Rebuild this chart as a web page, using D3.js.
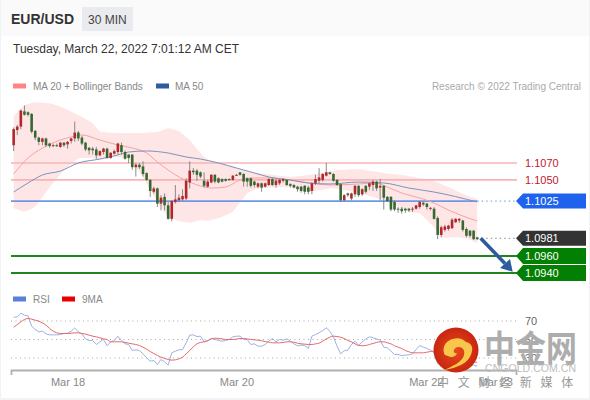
<!DOCTYPE html>
<html><head><meta charset="utf-8">
<script src="https://cdnjs.cloudflare.com/ajax/libs/d3/7.8.5/d3.min.js"></script>
<style>html,body{margin:0;padding:0;background:#fff}svg{display:block}text{font-family:"Liberation Sans",Arial,sans-serif}</style>
</head><body><svg id="c" width="590" height="400"></svg>
<script>
const opens=[1.1091,1.1109,1.1113,1.1131,1.1130,1.1128,1.1108,1.1100,1.1095,1.1099,1.1093,1.1090,1.1091,1.1089,1.1094,1.1092,1.1096,1.1099,1.1106,1.1100,
1.1094,1.1088,1.1087,1.1086,1.1079,1.1083,1.1087,1.1076,1.1081,1.1083,1.1091,1.1083,1.1080,1.1080,1.1065,1.1068,1.1066,1.1058,1.1050,1.1036,
1.1040,1.1022,1.1030,1.1020,1.1004,1.1024,1.1026,1.1027,1.1028,1.1047,1.1061,1.1061,1.1059,1.1049,1.1042,1.1047,1.1056,1.1052,1.1051,1.1051,
1.1051,1.1050,1.1055,1.1059,1.1057,1.1052,1.1052,1.1048,1.1042,1.1046,1.1042,1.1044,1.1051,1.1044,1.1046,1.1049,1.1050,1.1045,1.1044,1.1042,
1.1042,1.1043,1.1041,1.1037,1.1046,1.1049,1.1050,1.1055,1.1059,1.1057,1.1050,1.1045,1.1026,1.1034,1.1028,1.1033,1.1043,1.1033,1.1043,1.1042,
1.1044,1.1048,1.1041,1.1043,1.1030,1.1030,1.1024,1.1016,1.1016,1.1016,1.1016,1.1015,1.1016,1.1018,1.1023,1.1022,1.1016,1.1016,1.1005,1.0985,
1.0991,1.0992,1.0993,1.1000,1.1002,1.1002,1.0992,1.0990,1.0990,1.0982];
const closes=[1.1110,1.1113,1.1132,1.1127,1.1127,1.1107,1.1100,1.1095,1.1099,1.1091,1.1090,1.1091,1.1090,1.1094,1.1091,1.1095,1.1099,1.1106,1.1099,1.1093,
1.1086,1.1085,1.1085,1.1079,1.1084,1.1087,1.1076,1.1082,1.1084,1.1093,1.1083,1.1075,1.1076,1.1065,1.1068,1.1065,1.1057,1.1050,1.1037,1.1040,
1.1022,1.1029,1.1020,1.1004,1.1025,1.1027,1.1029,1.1031,1.1049,1.1061,1.1059,1.1056,1.1054,1.1043,1.1048,1.1056,1.1048,1.1047,1.1048,1.1049,
1.1050,1.1055,1.1056,1.1056,1.1048,1.1048,1.1043,1.1044,1.1046,1.1041,1.1046,1.1051,1.1044,1.1049,1.1050,1.1051,1.1044,1.1043,1.1041,1.1039,
1.1037,1.1036,1.1036,1.1046,1.1051,1.1053,1.1057,1.1059,1.1057,1.1049,1.1044,1.1026,1.1032,1.1032,1.1034,1.1043,1.1032,1.1039,1.1036,1.1046,
1.1048,1.1040,1.1043,1.1029,1.1025,1.1015,1.1015,1.1015,1.1013,1.1014,1.1014,1.1016,1.1020,1.1024,1.1021,1.1018,1.1017,1.1004,1.0985,1.0994,
1.0995,1.0996,1.1003,1.1004,1.1004,1.0991,1.0984,1.0984,1.0980,1.0980];
const highs=[1.1112,1.1115,1.1133,1.1138,1.1131,1.1129,1.1109,1.1101,1.1100,1.1100,1.1094,1.1093,1.1093,1.1095,1.1095,1.1096,1.1100,1.1119,1.1108,1.1102,
1.1095,1.1089,1.1089,1.1089,1.1085,1.1088,1.1088,1.1083,1.1086,1.1094,1.1094,1.1085,1.1080,1.1080,1.1070,1.1070,1.1072,1.1059,1.1051,1.1042,
1.1041,1.1032,1.1034,1.1024,1.1026,1.1044,1.1033,1.1039,1.1052,1.1072,1.1064,1.1063,1.1060,1.1059,1.1050,1.1057,1.1057,1.1053,1.1052,1.1052,
1.1052,1.1056,1.1057,1.1059,1.1058,1.1053,1.1053,1.1049,1.1047,1.1047,1.1047,1.1052,1.1052,1.1051,1.1051,1.1052,1.1051,1.1046,1.1045,1.1043,
1.1043,1.1044,1.1043,1.1047,1.1056,1.1064,1.1058,1.1070,1.1059,1.1058,1.1051,1.1046,1.1033,1.1035,1.1035,1.1044,1.1044,1.1040,1.1044,1.1047,
1.1050,1.1049,1.1051,1.1044,1.1031,1.1031,1.1026,1.1018,1.1018,1.1017,1.1017,1.1018,1.1020,1.1025,1.1024,1.1023,1.1018,1.1018,1.1007,1.0996,
1.0997,1.0997,1.1005,1.1005,1.1005,1.1003,1.0994,1.0991,1.0991,1.0983];
const lows=[1.1084,1.1103,1.1110,1.1126,1.1125,1.1105,1.1097,1.1091,1.1091,1.1089,1.1088,1.1089,1.1089,1.1088,1.1089,1.1087,1.1093,1.1095,1.1096,1.1091,
1.1084,1.1080,1.1080,1.1075,1.1078,1.1080,1.1075,1.1075,1.1080,1.1080,1.1080,1.1074,1.1070,1.1062,1.1054,1.1063,1.1054,1.1049,1.1030,1.1034,
1.1018,1.1014,1.1014,1.1003,1.1001,1.1022,1.1024,1.1025,1.1026,1.1040,1.1056,1.1049,1.1052,1.1041,1.1041,1.1046,1.1046,1.1046,1.1047,1.1048,
1.1049,1.1049,1.1055,1.1055,1.1042,1.1042,1.1041,1.1041,1.1040,1.1036,1.1041,1.1043,1.1043,1.1041,1.1044,1.1047,1.1043,1.1041,1.1040,1.1036,
1.1035,1.1033,1.1033,1.1033,1.1044,1.1046,1.1048,1.1054,1.1056,1.1048,1.1043,1.1024,1.1025,1.1030,1.1026,1.1030,1.1030,1.1031,1.1034,1.1038,
1.1037,1.1037,1.1026,1.1015,1.1024,1.1013,1.1013,1.1011,1.1010,1.1011,1.1012,1.1012,1.1015,1.1016,1.1019,1.1015,1.1014,1.1003,1.0980,1.0982,
1.0989,1.0990,1.0992,1.0999,1.0999,1.0989,1.0982,1.0982,1.0979,1.0979];

const upperIdx=[0,3,6,10,14,18,22,24,28,32,36,40,43,46,49,51,53,55,60,64,68,77,82,90,96,103,108,113,117,121,125,129];
const upperBand=[1.11256,1.11386,1.11421,1.11409,1.1135,1.11267,1.11173,1.11066,1.11055,1.11055,1.11055,1.11066,1.11114,1.11078,1.10972,1.10865,1.10771,1.10724,1.10676,1.10617,1.10582,1.10535,1.10558,1.10617,1.10629,1.10582,1.10558,1.10523,1.10487,1.10416,1.10334,1.10274];
const lowerIdx=[0,3,6,10,14,18,22,24,28,32,36,40,43,46,49,52,54,58,61,62,65,68,77,82,89,96,103,110,113,117,119,123,126,129];
const lowerBand=[1.10168,1.10121,1.1018,1.10416,1.10617,1.10759,1.10759,1.10735,1.10771,1.10759,1.10535,1.10239,1.10062,1.10014,1.09991,1.10026,1.10014,1.10062,1.10121,1.1018,1.10345,1.10404,1.10416,1.10357,1.10404,1.10345,1.10263,1.10121,1.10109,1.09944,1.09813,1.09825,1.09813,1.09754];
const ma20Idx=[0,4,8,13,16,19,24,29,33,37,40,43,46,49,52,55,59,63,67,71,77,82,89,96,101,104,108,111,117,121,125,129];
const ma20=[1.1057,1.10759,1.10877,1.10972,1.11007,1.11031,1.10972,1.10913,1.10877,1.10818,1.10712,1.10617,1.10535,1.10475,1.10428,1.10404,1.10416,1.10499,1.10523,1.10523,1.10499,1.10464,1.1044,1.10452,1.10464,1.10416,1.10345,1.1031,1.10227,1.10144,1.10074,1.10014];
const ma50Idx=[0,4,8,13,18,24,29,32,37,43,48,52,57,62,67,71,77,82,88,96,103,110,117,129];
const ma50=[1.10357,1.10464,1.10558,1.10605,1.107,1.10747,1.10795,1.1083,1.10842,1.10818,1.10771,1.10747,1.107,1.10641,1.10582,1.10535,1.10499,1.10464,1.10452,1.10475,1.10464,1.10404,1.10357,1.10239];

const rsi=[74.1,74.5,78.4,76.3,75.6,64.4,60.8,58.3,59,56.1,55,55,55,55.4,56.5,56.8,59,62.6,58.3,56.1,50.7,48.9,48.9,44.6,47.5,50,43.2,47.5,48.9,53.6,48.9,45.3,44.6,38.1,38.8,38.1,34.5,30.2,26.6,27.3,23,28.4,25.9,22.3,35.6,37.4,38.8,39.2,46.4,54.7,55,53.2,53.6,47.5,48.2,51.1,50,48.9,48.2,48.9,50,52.9,53.6,53.6,50,50,44.6,45.3,42.8,42.8,44.6,48.2,51.1,47.5,50,49.3,50.7,48.2,45.3,
43.2,43.9,43.5,40.3,53.6,55.4,57.2,59.7,62.6,59,52.5,42.8,34.5,37.8,38.5,44.6,48.2,43.5,47.5,50.7,52.9,51.8,50.7,49.3,41.7,41,37.4,33.8,33.8,32.7,33.1,33.4,34.5,39.2,43.5,41.7,40.3,38.5,35.6,23.7,23,24.8,25.9,28.4,29.5,29.5,25.9,23,23,22.3,21.2];
const rsiMa=[63.3,66.2,69.1,71.6,72.7,72,70.9,69.8,68,65.5,61.9,59,57.2,56.5,56.5,56.5,56.8,57.2,57.2,56.5,55.8,54.7,53.6,52.9,51.8,50.7,50,47.5,47.5,47.5,47.5,46.8,46,45.3,44.6,43.5,41.7,39.6,37,34.9,32.7,30.9,29.5,28.4,27.7,28,29.1,30.9,34.5,38.1,42.1,45.3,46.8,
47.5,48.9,50.7,51.4,51.1,50.7,50,50,50,50.4,51.1,51.1,50.7,50,49.6,49.3,48.6,47.8,47.1,46.4,46.4,46.4,46.8,47.5,47.5,47.1,
46,45.3,45,44.6,44.6,45.3,46,48.2,50.7,52.5,53.6,53.2,52.5,51.1,48.9,47.5,45.3,43.5,43.2,43.5,44.6,45.7,46.8,47.5,47.5,46.4,45.3,43.2,41.7,40.3,38.1,36.7,35.6,35.6,35.6,35.6,36.3,37,37.4,35.6,33.8,33.1,32.4,31.6,30.9,30.2,29.5,28,26.6,25.9,25.2];

const resistances=[1.1070,1.1050];
const pivot=1.1025, lastPrice=1.0981;
const supports=[1.0960,1.0940];
const rsiLevels=[70,50,30];
const tickIdx=[15,62,114.7,134];
const tickLabels=["Mar 18","Mar 20","Mar 22","Mar 23"];
const cnBrand="中金网", cnDomain="CNGOLD.COM.CN";
const cnSlogan=["中","文","财","经","新","媒","体"];

const svg=d3.select("#c");
const x=d3.scaleLinear().domain([-0.74,139.8]).range([11,516]);
const y=d3.scaleLinear().domain([1.0940,1.1070]).range([273,163]);
const yR=d3.scaleLinear().domain([30,70]).range([358,321]);
const lastI=opens.length-1;
const fmt=d3.format(".4f");

// page
svg.append("rect").attr("width",590).attr("height",400).attr("fill","#f1f3f7");
svg.append("rect").attr("x",1).attr("y",0).attr("width",588).attr("height",398).attr("fill","#fff");
svg.append("rect").attr("x",1).attr("y",0).attr("width",588).attr("height",36).attr("fill","#fafafa");
svg.append("rect").attr("x",82).attr("y",7).attr("width",51).attr("height",24).attr("fill","#e9ebef");
svg.append("text").attr("x",11).attr("y",24).attr("font-size",14).attr("font-weight","bold").attr("fill","#333").text("EUR/USD");
svg.append("text").attr("x",88).attr("y",24).attr("font-size",12).attr("fill","#444").text("30 MIN");
svg.append("text").attr("x",13).attr("y",53).attr("font-size",12).attr("fill","#333").text("Tuesday, March 22, 2022 7:01:12 AM CET");

function legend(px,py,color,label,tx){
  svg.append("rect").attr("x",px).attr("y",py-2.5).attr("width",13).attr("height",5).attr("fill",color);
  svg.append("text").attr("x",tx).attr("y",py+3.5).attr("font-size",10).attr("fill","#888").text(label);
}
legend(13,86,"#ff8585","MA 20 + Bollinger Bands",33);
legend(156,86,"#2f5b9f","MA 50",175);
legend(13,299,"#5b7fdb","RSI",33);
legend(62,299,"#e60000","9MA",82);
svg.append("text").attr("x",581).attr("y",90).attr("text-anchor","end").attr("font-size",10).attr("fill","#aaa").text("Research © 2022 Trading Central");

// bollinger band
const upAt=d3.scaleLinear(upperIdx,upperBand), loAt=d3.scaleLinear(lowerIdx,lowerBand);
svg.append("path").datum(d3.range(0,lastI+1))
 .attr("d",d3.area().x(i=>x(i)).y0(i=>y(loAt(i))).y1(i=>y(upAt(i))).curve(d3.curveBasis))
 .attr("fill","#fee6e6");

// levels
resistances.forEach(v=>{
  svg.append("line").attr("x1",x.range()[0]).attr("x2",517).attr("y1",y(v)).attr("y2",y(v)).attr("stroke","#f7b4b4").attr("stroke-width",1.6);
  svg.append("text").attr("x",525).attr("y",y(v)+4).attr("font-size",11).attr("fill","#c0202a").text(fmt(v));
});
svg.append("line").attr("x1",11).attr("x2",x(lastI)).attr("y1",y(pivot)).attr("y2",y(pivot)).attr("stroke","#6f97e8").attr("stroke-width",1.6);
svg.append("line").attr("x1",x(lastI)).attr("x2",517).attr("y1",y(pivot)).attr("y2",y(pivot)).attr("stroke","#8aa9e6").attr("stroke-width",1.2).attr("stroke-dasharray","1.5 3");
svg.append("line").attr("x1",x(lastI)).attr("x2",517).attr("y1",y(lastPrice)).attr("y2",y(lastPrice)).attr("stroke","#888").attr("stroke-width",1).attr("stroke-dasharray","1.5 3");
supports.forEach(v=>{
  svg.append("line").attr("x1",11).attr("x2",517).attr("y1",y(v)).attr("y2",y(v)).attr("stroke","#1f861f").attr("stroke-width",2);
});

// averages
const line=(idx,vals,color,w)=>svg.append("path").datum(idx.map((d,k)=>[d,vals[k]]))
 .attr("d",d3.line().x(d=>x(d[0])).y(d=>y(d[1])).curve(d3.curveMonotoneX))
 .attr("fill","none").attr("stroke",color).attr("stroke-width",w);
line(ma20Idx,ma20,"#f4a3a3",1);
line(ma50Idx,ma50,"#7d93bd",1);

// candles
const g=svg.append("g");
opens.forEach((o,i)=>{
  const c=closes[i], up=c>=o, top=y(Math.max(o,c)), bot=y(Math.min(o,c));
  g.append("line").attr("x1",x(i)).attr("x2",x(i)).attr("y1",y(highs[i])).attr("y2",y(lows[i])).attr("stroke","#7d7d7d").attr("stroke-width",0.9);
  g.append("rect").attr("x",x(i)-1.3).attr("width",2.6).attr("y",top).attr("height",Math.max(bot-top,1))
   .attr("fill",up?"#b3262b":"#35692f");
});

// tags
function tag(v,color,h){
  const m=y(v),l=516,r=586,n=7;
  svg.append("path").attr("d",`M${l},${m}L${l+n},${m-h/2}H${r}V${m+h/2}H${l+n}Z`).attr("fill",color);
  svg.append("text").attr("x",525).attr("y",m+4).attr("font-size",11).attr("fill","#fff").text(fmt(v));
}
tag(pivot,"#1e62ee",15);
tag(lastPrice,"#333333",15);
supports.forEach(v=>tag(v,"#038003",16));

// arrow
const ax0=x(lastI)+3.5, ay0=y(lastPrice), ax1=512.7, ay1=y(supports[1])-1.3;
svg.append("line").attr("x1",ax0).attr("y1",ay0).attr("x2",505).attr("y2",263.5).attr("stroke","#2d5c9e").attr("stroke-width",3.6);
svg.append("path").attr("d",`M${ax1},${ay1}L500,268L510,259Z`).attr("fill","#2d5c9e");

// rsi panel
rsiLevels.forEach(v=>{
  svg.append("line").attr("x1",11).attr("x2",517).attr("y1",yR(v)).attr("y2",yR(v)).attr("stroke","#aaa").attr("stroke-width",1).attr("stroke-dasharray","1 3.5");
  svg.append("text").attr("x",525).attr("y",yR(v)+4).attr("font-size",11).attr("fill","#666").text(v);
});
svg.append("path").datum(rsi).attr("d",d3.line().x((d,i)=>x(i)).y(d=>yR(d))).attr("fill","none").attr("stroke","#9db1e6").attr("stroke-width",1);
svg.append("path").datum(rsiMa).attr("d",d3.line().x((d,i)=>x(i)).y(d=>yR(d)).curve(d3.curveMonotoneX)).attr("fill","none").attr("stroke","#e46a6a").attr("stroke-width",1);

// axis
const axis=d3.axisBottom(x).tickValues(tickIdx).tickFormat((d,i)=>tickLabels[i]).tickSizeInner(0).tickSizeOuter(5).tickPadding(8);
const ag=svg.append("g").attr("transform","translate(0,370)").call(axis);
ag.select(".domain").attr("stroke","#b0b0b0").attr("stroke-width",1.8);
ag.selectAll("text").attr("font-size",11).attr("fill","#888").attr("font-family","'Liberation Sans',Arial,sans-serif");

// watermark
const defs=svg.append("defs");
const gr=defs.append("radialGradient").attr("id","lg");
gr.append("stop").attr("offset","0%").attr("stop-color","#e8491d");
gr.append("stop").attr("offset","100%").attr("stop-color","#c8260f");
svg.append("circle").attr("cx",456).attr("cy",350).attr("r",22.5).attr("fill","url(#lg)");
svg.append("path").attr("d","M444,353c-2,-7 3,-13 9,-14c5,-2 10,0 13,3c5,1 7,5 6,9c-1,6 -5,11 -11,14c-5,2 -10,4 -16,5c5,-3 13,-6 17,-11c3,-4 3,-9 0,-11c-3,-2 -7,-1 -8,2c-1,2 1,4 3,3c-1,4 -6,5 -9,3c-2,-1 -4,-1 -4,-3Z").attr("fill","#f8c64a");
svg.append("text").attr("transform","translate(484,362) scale(1,1.18)").attr("font-size",31).attr("font-weight","bold").attr("fill","#adadad").attr("style","font-family:'Noto Sans CJK SC'").text(cnBrand);
svg.append("text").attr("x",485).attr("y",372).attr("font-size",10.5).attr("fill","#bdbdbd").attr("textLength",91).text(cnDomain);
cnSlogan.forEach((t,i)=>svg.append("text").attr("x",437+i*20.7).attr("y",386.5).attr("font-size",12).attr("fill","#999").attr("style","font-family:'Noto Sans CJK SC'").text(t));
</script></body></html>
